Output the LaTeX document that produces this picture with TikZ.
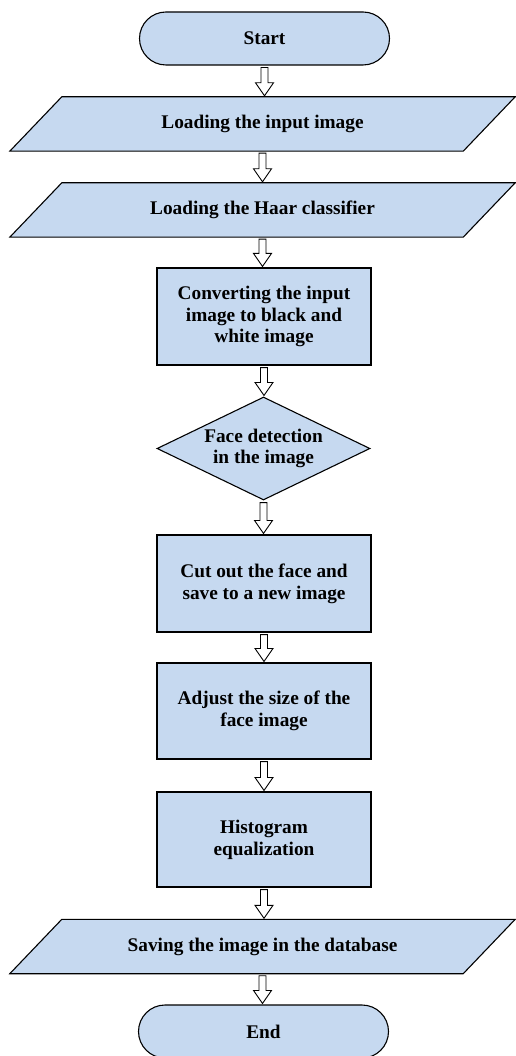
\documentclass[tikz,border=0pt]{standalone}
\usepackage{fontspec}
\setmainfont{Liberation Serif}
\usetikzlibrary{shapes.misc,shapes.geometric,calc,backgrounds}
\definecolor{boxblue}{RGB}{198,217,240}

% hollow block arrow from the bottom of one node to the top of the next
\newcommand\flowarrow[2]{%
  \draw[hollow] let \p1=(#1.south), \p2=(#2.north) in
    ({\x1-3.5pt},{\y1-2pt}) -- ({\x1+3.5pt},{\y1-2pt}) -- ({\x1+3.5pt},{\y2+14pt})
    -- ({\x1+9pt},{\y2+14pt}) -- ({\x1},{\y2+1pt}) -- ({\x1-9pt},{\y2+14pt})
    -- ({\x1-3.5pt},{\y2+14pt}) -- cycle;}

\begin{document}
\begin{tikzpicture}[x=1pt,y=-1pt,
  txt/.style={font=\fontsize{19.3}{21.8}\selectfont\bfseries, align=center, inner sep=0pt},
  base/.style={txt, draw=black, line width=1.1pt, fill=boxblue},
  terminal/.style={base, rounded rectangle, minimum width=250pt, minimum height=53pt},
  process/.style={base, rectangle, minimum width=214pt},
  decision/.style={base, diamond, aspect=2.07, minimum width=213pt, minimum height=103pt},
  iobox/.style={txt, minimum width=453pt, minimum height=54pt},
  hollow/.style={draw=black, line width=0.9pt, fill=white, line join=miter}
]
\useasboundingbox (0,0) rectangle (515,1056);

\node[terminal] (start) at (264.5,38.5) {Start};
\node[iobox] (load) at (262.5,124) {Loading the input image};
\node[iobox] (haar) at (262.5,210) {Loading the Haar classifier};
\node[process, minimum height=97pt] (gray) at (264,316.5) {Converting the input\\image to black and\\white image};
\node[decision] (detect) at (263.5,448.5) {Face detection\\in the image};
\node[process, minimum height=97pt] (crop) at (264,583.5) {Cut out the face and\\save to a new image};
\node[process, minimum height=96pt] (resize) at (264,711) {Adjust the size of the\\face image};
\node[process, minimum height=95pt] (hist) at (264,839.5) {Histogram\\equalization};
\node[iobox] (save) at (262.5,946.5) {Saving the image in the database};
\node[terminal] (end) at (263.5,1031.5) {End};

% input/output parallelograms behind their labels
\begin{scope}[on background layer]
  \foreach \n in {load,haar,save}
    \draw[base] ([xshift=26pt]\n.north west) -- ([xshift=26pt]\n.north east)
      -- ([xshift=-26pt]\n.south east) -- ([xshift=-26pt]\n.south west) -- cycle;
\end{scope}

\flowarrow{start}{load}
\flowarrow{load}{haar}
\flowarrow{haar}{gray}
\flowarrow{gray}{detect}
\flowarrow{detect}{crop}
\flowarrow{crop}{resize}
\flowarrow{resize}{hist}
\flowarrow{hist}{save}
\flowarrow{save}{end}
\end{tikzpicture}
\end{document}
